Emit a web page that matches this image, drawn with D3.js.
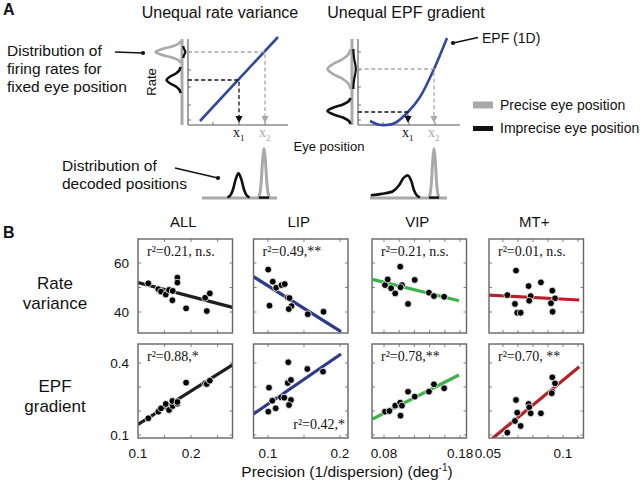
<!DOCTYPE html>
<html><head><meta charset="utf-8">
<script src="https://cdn.jsdelivr.net/npm/d3@7"></script>
<style>body{margin:0;background:#fff}svg{display:block}</style>
</head><body>
<svg id="c" width="640" height="483"></svg>
<script>
// ---------------- DATA ----------------
const regions = ["ALL", "LIP", "VIP", "MT+"];
const regionColors = ["#1e1e1e", "#2e3a8e", "#3bb34a", "#b3222c"];
const rowLabels = [["Rate", "variance"], ["EPF", "gradient"]];
const xDomains = [[0.1, 0.278], [0.0799, 0.2111], [0.0642, 0.1885], [0.0507, 0.1137]];
const xTickValues = [[0.1, 0.2], [0.1, 0.2], [0.08, 0.18], [0.05, 0.1]];
const xTickLabels = [["0.1", "0.2"], ["0.1", "0.2"], ["0.08", "0.18"], ["0.05", "0.1"]];
const xMinorTicks = [[0.15, 0.2, 0.25], [0.1, 0.15, 0.2], [0.08, 0.1, 0.12, 0.14, 0.16, 0.18], [0.06, 0.07, 0.08, 0.09, 0.1, 0.11]];
const rateDomain = [31.43, 69.8];
const gradDomain = [0.0875, 0.479];
const rateTicks = [40, 50, 60];
const gradTicks = [0.1, 0.2, 0.3, 0.4];
const rateTickLabels = [[60, "60"], [40, "40"]];
const gradTickLabels = [[0.4, "0.4"], [0.1, "0.1"]];

const allRate = [[0.1194,51.7],[0.1383,49.3],[0.1434,48.3],[0.1523,47.1],[0.1585,49.0],[0.1655,48.6],[0.1647,44.8],[0.1742,54.0],[0.1742,52.0],[0.1906,41.5],[0.2264,45.8],[0.2296,40.4],[0.2353,47.6]];
const allGrad = [[0.1194,0.1696],[0.1383,0.1971],[0.1434,0.2113],[0.1523,0.2292],[0.1585,0.2042],[0.1655,0.2208],[0.1647,0.2417],[0.1742,0.2304],[0.1742,0.2375],[0.1906,0.3179],[0.2264,0.3154],[0.2296,0.3125],[0.2353,0.3263]];
const lipRate = [[0.1003,57.3],[0.1067,52.4],[0.1114,49.9],[0.1188,51.0],[0.1233,51.4],[0.1275,45.9],[0.1299,45.7],[0.1326,42.4],[0.1289,41.2],[0.1021,42.6],[0.1553,39.1],[0.1771,40.1]];
const lipGrad = [[0.1282,0.4029],[0.1014,0.2971],[0.106,0.2429],[0.1107,0.2113],[0.1004,0.1971],[0.1181,0.2571],[0.1226,0.2554],[0.1274,0.3167],[0.1319,0.3292],[0.1319,0.2458],[0.1292,0.225],[0.1546,0.375],[0.1764,0.3638]];
const vipRate = [[0.0813,51.0],[0.0849,53.3],[0.0893,49.7],[0.0947,47.6],[0.1013,58.5],[0.1036,51.0],[0.1017,50.1],[0.1116,43.3],[0.1204,53.1],[0.1391,47.9],[0.1457,46.5],[0.1591,46.2]];
const vipGrad = [[0.0813,0.1971],[0.0871,0.2],[0.0947,0.2221],[0.1013,0.2346],[0.1036,0.2221],[0.1017,0.1804],[0.1116,0.2804],[0.1204,0.2596],[0.1391,0.2804],[0.1457,0.3112],[0.1591,0.2946]];
const mtRate = [[0.0629,46.9],[0.0687,56.9],[0.068,43.3],[0.0695,39.7],[0.0718,39.7],[0.0771,50.6],[0.0785,46.5],[0.0775,44.6],[0.0853,52.1],[0.0929,48.7],[0.0947,45.6],[0.092,43.6],[0.0931,40.1]];
const mtGrad = [[0.0629,0.1096],[0.0687,0.2458],[0.0695,0.1929],[0.068,0.1583],[0.0718,0.1375],[0.0771,0.2292],[0.0775,0.2154],[0.0785,0.1904],[0.0853,0.1904],[0.0929,0.3404],[0.0947,0.3154],[0.0929,0.2804],[0.0925,0.2738]];
const ratePoints = [allRate, lipRate, vipRate, mtRate];
const gradPoints = [allGrad, lipGrad, vipGrad, mtGrad];

const rateFits = [[[0.1,52.0],[0.278,41.9]], [[0.0799,54.4],[0.2014,32.0]], [[0.0649,53.3],[0.1785,44.6]], [[0.0507,46.9],[0.1109,44.9]]];
const gradFits = [[[0.1,0.1446],[0.278,0.3917]], [[0.0799,0.1875],[0.2014,0.4375]], [[0.0649,0.1667],[0.1785,0.35]], [[0.0531,0.0862],[0.1109,0.3846]]];
const rateStats = ["r\u00B2=0.21, n.s.", "r\u00B2=0.49,**", "r\u00B2=0.21, n.s.", "r\u00B2=0.01, n.s."];
const gradStats = ["r\u00B2=0.88,*", "r\u00B2=0.42,*", "r\u00B2=0.78,**", "r\u00B2=0.70, **"];

// schematic (panel A) shapes, in schematic units
const bellShape = [[-1,0],[-0.75,0.08],[-0.5,0.33],[-0.25,0.76],[0,1],[0.25,0.76],[0.5,0.33],[0.75,0.08],[1,0]];
const skewBellShape = [[-3.1,0.1],[-2.2,0.16],[-1.25,0.28],[-0.75,0.55],[-0.35,0.9],[0,1],[0.25,0.78],[0.5,0.33],[0.75,0.08],[1,0]];
const linearEPF = [[12,4],[90,88]];
const curvedEPF = [[12,4],[20,0.6],[28,0],[37,2],[50,13],[62,28],[76,56],[89,87]];
const rvPos = [51, 77];     // imprecise x1, precise x2
const rvRates = [45, 73];
const egPos = [50, 76];
const egRates = [13, 56];
const schemYTicks = [5, 20, 38, 55, 73];
const schemXTicks = [25, 51, 77];

// ---------------- DRAW ----------------
const svg = d3.select("#c");
const sans = "'Liberation Sans', Arial, sans-serif";
const serif = "'Liberation Serif', 'Times New Roman', serif";
const gray = "#a9a9a9", blueA = "#3347a0", axisC = "#555";
const line = d3.line().curve(d3.curveCatmullRom.alpha(0.5));

function txt(x, y, s, size, opts = {}) {
  return svg.append("text").attr("x", x).attr("y", y).text(s)
    .attr("font-family", opts.family || sans).attr("font-size", size)
    .attr("font-weight", opts.weight || "normal")
    .attr("text-anchor", opts.anchor || "start").attr("fill", opts.fill || "#111");
}

// Panel letters and titles
txt(3, 15, "A", 16, {weight: "bold"});
txt(3, 238, "B", 16, {weight: "bold"});
txt(220, 18, "Unequal rate variance", 16, {anchor: "middle"});
txt(406, 18, "Unequal EPF gradient", 16, {anchor: "middle"});

// Left annotations
["Distribution of", "firing rates for", "fixed eye position"].forEach((s, i) => txt(7, 56 + i * 18, s, 15.5));
["Distribution of", "decoded positions"].forEach((s, i) => txt(62, 171 + i * 18, s, 15.5));

function schematic(x0, x1, epf, pos, rates, dists, decoded, tinyBlack) {
  const xs = d3.scaleLinear([0, x1 - x0], [x0, x1]);
  const ys = d3.scaleLinear([0, 86], [125, 39]);
  const ds = d3.scaleLinear([0, 50], [198, 148]);
  const g = svg.append("g");
  // axes
  g.append("line").attr("x1", xs(0)).attr("x2", xs(0)).attr("y1", ys(86)).attr("y2", ys(0)).attr("stroke", axisC).attr("stroke-width", 1.1);
  g.append("line").attr("x1", xs(0)).attr("x2", xs(x1 - x0)).attr("y1", ys(0)).attr("y2", ys(0)).attr("stroke", axisC).attr("stroke-width", 1.1);
  schemYTicks.forEach(t => g.append("line").attr("x1", xs(0)).attr("x2", xs(3)).attr("y1", ys(t)).attr("y2", ys(t)).attr("stroke", axisC).attr("stroke-width", 0.8));
  schemXTicks.forEach(t => g.append("line").attr("x1", xs(t)).attr("x2", xs(t)).attr("y1", ys(0)).attr("y2", ys(3)).attr("stroke", axisC).attr("stroke-width", 0.8));
  // gray rate line
  g.append("line").attr("x1", xs(-6)).attr("x2", xs(-6)).attr("y1", ys(86)).attr("y2", ys(0)).attr("stroke", gray).attr("stroke-width", 3);
  // rate distributions
  dists.forEach(d => {
    g.append("path").attr("d", line(bellShape.map(([t, h]) => [xs(-7.5 - h * d.amp), ys(d.c + t * d.hw)])))
      .attr("fill", "none").attr("stroke", d.color).attr("stroke-width", 2.6);
  });
  g.append("path").attr("d", line(bellShape.map(([t, h]) => [xs(-4.6 + h * tinyBlack.amp), ys(tinyBlack.c + t * tinyBlack.hw)])))
    .attr("fill", "none").attr("stroke", "#111").attr("stroke-width", 2.2);
  // EPF
  g.append("path").attr("d", line(epf.map(([a, b]) => [xs(a), ys(b)])))
    .attr("fill", "none").attr("stroke", blueA).attr("stroke-width", 2.6);
  // dashed guides & arrows
  [[1, gray], [0, "#111"]].forEach(([k, col]) => {
    g.append("path").attr("d", `M${xs(0)},${ys(rates[k])}H${xs(pos[k])}V${ys(9)}`)
      .attr("fill", "none").attr("stroke", col).attr("stroke-width", 1.3).attr("stroke-dasharray", "4,2.6");
    g.append("path").attr("d", `M${xs(pos[k]) - 3.6},${ys(9)}L${xs(pos[k]) + 3.6},${ys(9)}L${xs(pos[k])},${ys(2)}Z`).attr("fill", col);
    const t = g.append("text").attr("x", xs(pos[k]) - 6).attr("y", 137).attr("font-family", serif).attr("font-size", 14).attr("fill", col);
    t.append("tspan").text("x");
    t.append("tspan").attr("font-size", 9).attr("dy", 4).text(String(k + 1));
  });
  // decoded distributions
  g.append("line").attr("x1", xs(decoded.from)).attr("x2", xs(decoded.to)).attr("y1", ds(0)).attr("y2", ds(0)).attr("stroke", gray).attr("stroke-width", 3);
  const im = decoded.imprecise;
  g.append("path").attr("d", line((im.shape).map(([t, h]) => [xs(im.c + t * im.hw), ds(0.6 + h * im.amp)])))
    .attr("fill", "none").attr("stroke", "#111").attr("stroke-width", 2.6);
  const pr = decoded.precise;
  g.append("path").attr("d", line(bellShape.map(([t, h]) => [xs(pr.c + t * pr.hw), ds(0.6 + h * pr.amp)])))
    .attr("fill", "none").attr("stroke", gray).attr("stroke-width", 3);
  g.append("line").attr("x1", xs(pr.c - 5)).attr("x2", xs(pr.c + 5)).attr("y1", ds(0.4)).attr("y2", ds(0.4)).attr("stroke", "#111").attr("stroke-width", 2.4);
  return {xs, ys};
}

schematic(188, 288, linearEPF, rvPos, rvRates,
  [{c: 73, hw: 11, amp: 25, color: gray}, {c: 45, hw: 13, amp: 14, color: "#111"}],
  {from: 14, to: 89, imprecise: {c: 50.5, hw: 11, amp: 24, shape: bellShape}, precise: {c: 76, hw: 5.5, amp: 49}},
  {c: 73, hw: 6, amp: 2});
const right = schematic(358, 460, curvedEPF, egPos, egRates,
  [{c: 56, hw: 20, amp: 23, color: gray}, {c: 14, hw: 13, amp: 23, color: "#111"}],
  {from: 12, to: 89, imprecise: {c: 50, hw: 12, amp: 22, shape: skewBellShape}, precise: {c: 76, hw: 5, amp: 49}},
  {c: 56, hw: 20, amp: 2.4});

// "Rate" label
svg.append("text").attr("transform", "translate(156,82) rotate(-90)").attr("text-anchor", "middle")
  .attr("font-family", sans).attr("font-size", 13).attr("fill", "#111").text("Rate");
txt(329, 151, "Eye position", 13, {anchor: "middle"});

// leader lines with dots
function leader(xa, ya, xb, yb) {
  svg.append("line").attr("x1", xa).attr("y1", ya).attr("x2", xb).attr("y2", yb).attr("stroke", "#111").attr("stroke-width", 1.4);
  svg.append("circle").attr("cx", xb).attr("cy", yb).attr("r", 2.1).attr("fill", "#111");
}
leader(115, 52, 143, 53);
leader(175, 168, 218, 178);
leader(478, 37.5, 453, 43);
txt(482, 43, "EPF (1D)", 14);

// legend
svg.append("rect").attr("x", 473).attr("y", 101.5).attr("width", 20).attr("height", 7).attr("fill", gray);
svg.append("rect").attr("x", 473).attr("y", 126).attr("width", 20).attr("height", 5).attr("fill", "#111");
txt(500, 110, "Precise eye position", 14);
txt(500, 133, "Imprecise eye position", 14);

// ---------------- Panel B ----------------
const colX = [138, 253.5, 372, 489], pw = 94.5, rowY = [239, 344], ph = 94;
rowLabels.forEach((ls, r) => ls.forEach((s, k) => txt(55, [289, 392][r] + k * 20, s, 17, {anchor: "middle"})));

regions.forEach((name, i) => {
  txt(colX[i] + pw / 2 - 2, 227, name, 15, {anchor: "middle"});
  const x = d3.scaleLinear(xDomains[i], [colX[i], colX[i] + pw]);
  [0, 1].forEach(row => {
    const y = d3.scaleLinear(row ? gradDomain : rateDomain, [rowY[row] + ph, rowY[row]]);
    const g = svg.append("g");
    const id = `clip${i}${row}`;
    g.append("clipPath").attr("id", id).append("rect").attr("x", colX[i]).attr("y", rowY[row]).attr("width", pw).attr("height", ph);
    // inner ticks
    const yt = row ? gradTicks : rateTicks;
    yt.forEach(v => {
      [[colX[i], 3], [colX[i] + pw, -3]].forEach(([bx, d]) =>
        g.append("line").attr("x1", bx).attr("x2", bx + d).attr("y1", y(v)).attr("y2", y(v)).attr("stroke", "#777").attr("stroke-width", 0.9));
    });
    xMinorTicks[i].forEach(v => {
      if (x(v) <= colX[i] + 1 || x(v) >= colX[i] + pw - 1) return;
      [[rowY[row], 3], [rowY[row] + ph, -3]].forEach(([by, d]) =>
        g.append("line").attr("x1", x(v)).attr("x2", x(v)).attr("y1", by).attr("y2", by + d).attr("stroke", "#777").attr("stroke-width", 0.9));
    });
    const cg = g.append("g").attr("clip-path", `url(#${id})`);
    const fit = row ? gradFits[i] : rateFits[i];
    cg.append("line").attr("x1", x(fit[0][0])).attr("y1", y(fit[0][1])).attr("x2", x(fit[1][0])).attr("y2", y(fit[1][1]))
      .attr("stroke", regionColors[i]).attr("stroke-width", 3.2);
    cg.selectAll("circle").data(row ? gradPoints[i] : ratePoints[i]).join("circle")
      .attr("cx", d => x(d[0])).attr("cy", d => y(d[1])).attr("r", 3.4)
      .attr("fill", "#000").attr("stroke", "#fff").attr("stroke-width", 0.8);
    g.append("rect").attr("x", colX[i]).attr("y", rowY[row]).attr("width", pw).attr("height", ph)
      .attr("fill", "none").attr("stroke", "#666").attr("stroke-width", 1.4);
    const stat = row ? gradStats[i] : rateStats[i];
    if (row === 1 && i === 1) {
      txt(colX[i] + pw - 3, rowY[row] + ph - 9, stat, 14, {family: serif, anchor: "end"});
    } else {
      txt(colX[i] + 9, rowY[row] + 17, stat, 14, {family: serif});
    }
    if (i === 0) {
      (row ? gradTickLabels : rateTickLabels).forEach(([v, s]) => txt(129, y(v) + 5, s, 13.5, {anchor: "end"}));
    }
  });
  xTickValues[i].forEach((v, k) => txt(x(v), 458, xTickLabels[i][k], 13.5, {anchor: "middle"}));
});

const xl = svg.append("text").attr("x", 347).attr("y", 477).attr("text-anchor", "middle")
  .attr("font-family", sans).attr("font-size", 15.5).attr("fill", "#111");
xl.append("tspan").text("Precision (1/dispersion) (deg");
xl.append("tspan").attr("font-size", 10).attr("dy", -6).text("-1");
xl.append("tspan").attr("dy", 6).text(")");
</script>
</body></html>
